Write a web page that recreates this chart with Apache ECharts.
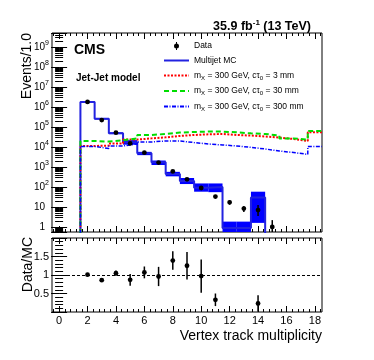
<!DOCTYPE html>
<html>
<head>
<meta charset="utf-8">
<script src="https://cdn.jsdelivr.net/npm/echarts@6/dist/echarts.min.js"></script>
<style>
  html, body { margin: 0; padding: 0; background: #fff; }
  #chart { width: 374px; height: 360px; }
</style>
</head>
<body>
<div id="chart"></div>
<script>
// Vertex track multiplicity, data vs multijet MC and three signal hypotheses.
// Bins are integer-centred (edges at n +- 0.5).

const dataBins = [2, 3, 4, 5, 6, 7, 8, 9, 10, 11, 12, 13, 14, 15]
const dataVals = [1.78e6, 2.2e5, 5.2e4, 1.5e4, 5.2e3, 1.65e3, 600, 240, 89, 33, 17, 8.3, 7, 1]
const dataErrUp = [1330, 470, 230, 120, 72, 41, 25, 16, 9.5, 7, 5, 3, 5.6, 1.2]
const dataErrDown = [1330, 470, 230, 120, 72, 41, 25, 16, 9.5, 6, 4, 2.7, 3.5, 1]

const mcBins = [2, 3, 4, 5, 6, 7, 8, 9, 10, 11, 12, 13, 14]
const mcVals = [1.78e6, 2.55e5, 4.9e4, 1.7e4, 4.8e3, 1.7e3, 440, 200, 92, 100, 0.9, 0.9, 30]
const mcLo = [1.68e6, 2.35e5, 4.4e4, 1.3e4, 3.9e3, 1.25e3, 340, 140, 58, 55, 0, 0, 1.6]
const mcHi = [1.9e6, 2.75e5, 5.4e4, 2.2e4, 5.7e3, 2.1e3, 570, 280, 150, 150, 1.85, 1.85, 58]

const sigBins = [2, 3, 4, 5, 6, 7, 8, 9, 10, 11, 12, 13, 14, 15, 16, 17, 18]
const sig3mm = [11200, 11700, 14800, 23400, 26900, 30200, 35500, 39800, 42700, 44700, 39800, 37200, 33100, 29500, 25100, 20000, 53700]
const sig30mm = [19950, 18600, 21400, 26900, 39800, 44700, 52500, 56200, 58900, 58900, 53700, 47900, 44700, 37200, 26900, 23400, 63100]
const sig300mm = [10500, 8500, 11200, 14100, 17800, 20000, 20000, 16600, 14100, 12600, 11200, 9550, 7940, 6310, 5250, 4270, 10500]

const ratioBins = [2, 3, 4, 5, 6, 7, 8, 9, 10, 11, 14]
const ratioVals = [1.01, 0.86, 1.05, 0.87, 1.07, 0.96, 1.39, 1.25, 0.97, 0.33, 0.23]
const ratioErr = [0.02, 0.03, 0.07, 0.16, 0.16, 0.26, 0.25, 0.37, 0.45, 0.17, 0.22]

const xTicksMajor = [0, 2, 4, 6, 8, 10, 12, 14, 16, 18]
const ratioLabels = [0.5, 1, 1.5]

const FONT = '"Liberation Sans", Arial, Helvetica, sans-serif'
const X_MIN = -0.5, X_MAX = 18.5
const Y_MIN = 0.56, Y_MAX = 5e9
const FLOOR = 0.3   // empty bins drawn below the axis floor

// minor tick positions (0.4 steps, ROOT 510 style) and log minor ticks
const xTicksMinor = []
for (let k = -1; k <= 47; k++) {
  const v = Math.round(k * 0.4 * 10) / 10
  if (v > X_MIN && v < X_MAX) xTicksMinor.push(v)
}
const yTicksMinor = []
for (let e = -1; e <= 9; e++) {
  for (let m = 2; m <= 9; m++) {
    const v = m * Math.pow(10, e)
    if (v > Y_MIN && v < Y_MAX) yTicksMinor.push(v)
  }
}

// step outline: points at the left edge of each bin
function stepData(bins, vals) {
  const pts = [[X_MIN, FLOOR]]
  bins.forEach(function (b, i) { pts.push([b - 0.5, vals[i]]) })
  const last = bins[bins.length - 1] + 0.5
  if (last < X_MAX) { pts.push([last, FLOOR]); pts.push([X_MAX, FLOOR]) }
  else pts.push([X_MAX, vals[vals.length - 1]])
  return pts
}

function clampY(y, cs) {
  if (!isFinite(y)) return cs.y + cs.height
  return Math.max(cs.y, Math.min(cs.y + cs.height, y))
}

function renderBand(params, api) {
  const cs = params.coordSys
  const x = api.value(0)
  const lo = api.value(1), hi = api.value(2)
  const p0 = api.coord([x - 0.5, hi])
  const p1 = api.coord([x + 0.5, 1])
  const yTop = clampY(p0[1], cs)
  const yBot = lo > 0 ? clampY(api.coord([x, lo])[1], cs) : cs.y + cs.height
  return {
    type: 'rect',
    shape: { x: p0[0], y: yTop, width: p1[0] - p0[0], height: yBot - yTop },
    style: { fill: '#0000ff' }
  }
}

function renderPoint(params, api) {
  const cs = params.coordSys
  const x = api.value(0), y = api.value(1)
  const up = api.value(2), down = api.value(3)
  const c = api.coord([x, y])
  const yHi = clampY(api.coord([x, y + up])[1], cs)
  const yLo = (y - down) > 0 ? clampY(api.coord([x, y - down])[1], cs) : cs.y + cs.height
  return {
    type: 'group',
    children: [
      { type: 'line', shape: { x1: c[0], y1: yHi, x2: c[0], y2: yLo }, style: { stroke: '#000', lineWidth: 1.5 } },
      { type: 'circle', shape: { cx: c[0], cy: c[1], r: 2.4 }, style: { fill: '#000' } }
    ]
  }
}

function xAxisSet(grid, withLabels) {
  const base = { type: 'value', gridIndex: grid, min: X_MIN, max: X_MAX, splitLine: { show: false }, axisLine: { show: false } }
  return [
    Object.assign({}, base, {
      position: 'bottom',
      axisTick: { inside: true, length: 6, customValues: xTicksMajor, lineStyle: { color: '#000' } },
      axisLabel: withLabels
        ? { show: true, customValues: xTicksMajor, fontSize: 11, fontFamily: FONT, color: '#000', margin: 3 }
        : { show: false }
    }),
    Object.assign({}, base, {
      position: 'bottom',
      axisTick: { inside: true, length: 3, customValues: xTicksMinor, lineStyle: { color: '#000' } },
      axisLabel: { show: false }
    }),
    Object.assign({}, base, {
      position: 'top',
      axisTick: { inside: true, length: 6, customValues: xTicksMajor, lineStyle: { color: '#000' } },
      axisLabel: { show: false }
    }),
    Object.assign({}, base, {
      position: 'top',
      axisTick: { inside: true, length: 3, customValues: xTicksMinor, lineStyle: { color: '#000' } },
      axisLabel: { show: false }
    })
  ]
}

const logBase = { type: 'log', gridIndex: 0, min: Y_MIN, max: Y_MAX, splitNumber: 10, splitLine: { show: false }, axisLine: { show: false } }

const yAxes = [
  Object.assign({}, logBase, {
    position: 'left',
    axisTick: { inside: true, length: 8, lineStyle: { color: '#000' } },
    axisLabel: {
      fontSize: 10, fontFamily: FONT, color: '#000', margin: 3,
      formatter: function (v) {
        const e = Math.round(Math.log10(v))
        if (Math.abs(Math.log10(v) - e) > 1e-6) return ''
        if (e === 0) return '{p|1}'
        if (e === 1) return '{p|10}'
        return '10{sup|' + e + '}'
      },
      rich: {
        p: { fontSize: 10, fontFamily: FONT, color: '#000', padding: [0, 4, 0, 0] },
        sup: { fontSize: 7, fontFamily: FONT, color: '#000', padding: [0, 0, 7, 0] }
      }
    }
  }),
  Object.assign({}, logBase, {
    position: 'left',
    axisTick: { inside: true, length: 4, customValues: yTicksMinor, lineStyle: { color: '#000' } },
    axisLabel: { show: false }
  }),
  Object.assign({}, logBase, {
    position: 'right',
    axisTick: { inside: true, length: 8, lineStyle: { color: '#000' } },
    axisLabel: { show: false }
  }),
  Object.assign({}, logBase, {
    position: 'right',
    axisTick: { inside: true, length: 4, customValues: yTicksMinor, lineStyle: { color: '#000' } },
    axisLabel: { show: false }
  }),
  {
    type: 'value', gridIndex: 1, position: 'left', min: 0, max: 2, interval: 0.5,
    splitLine: { show: false }, axisLine: { show: false },
    axisTick: { inside: true, length: 8, lineStyle: { color: '#000' } },
    minorTick: { show: true, splitNumber: 5, length: 4, lineStyle: { color: '#000' } },
    axisLabel: { customValues: ratioLabels, fontSize: 11, fontFamily: FONT, color: '#000', margin: 3 }
  },
  {
    type: 'value', gridIndex: 1, position: 'right', min: 0, max: 2, interval: 0.5,
    splitLine: { show: false }, axisLine: { show: false },
    axisTick: { inside: true, length: 8, lineStyle: { color: '#000' } },
    minorTick: { show: true, splitNumber: 5, length: 4, lineStyle: { color: '#000' } },
    axisLabel: { show: false }
  }
]

const legendNames = {
  'Data': 'Data',
  'Multijet MC': 'Multijet MC',
  'sig3': 'm{sub|X} = 300 GeV, cτ{sub|0} = 3 mm',
  'sig30': 'm{sub|X} = 300 GeV, cτ{sub|0} = 30 mm',
  'sig300': 'm{sub|X} = 300 GeV, cτ{sub|0} = 300 mm'
}

const noMarker = { color: 'rgba(0,0,0,0)', borderWidth: 0 }

const chart = echarts.init(document.getElementById('chart'), null, { renderer: 'canvas' })

chart.setOption({
  animation: false,
  backgroundColor: '#fff',
  grid: [
    { left: 52, top: 33, width: 270, height: 199, show: true, borderColor: '#000', borderWidth: 1, backgroundColor: 'transparent' },
    { left: 52, top: 238, width: 270, height: 74, show: true, borderColor: '#000', borderWidth: 1, backgroundColor: 'transparent' }
  ],
  xAxis: xAxisSet(0, false).concat(xAxisSet(1, true)),
  yAxis: yAxes,
  title: [
    { text: 'CMS', left: 69, top: 38, textStyle: { fontSize: 14, fontWeight: 'bold', fontFamily: FONT, color: '#000' } },
    { text: 'Jet-Jet model', left: 71, top: 68, textStyle: { fontSize: 10, fontWeight: 'bold', fontFamily: FONT, color: '#000' } },
    {
      text: '35.9 fb{sup|-1} (13 TeV)', right: 58, top: 14,
      textStyle: {
        fontSize: 12.5, fontWeight: 'bold', fontFamily: FONT, color: '#000',
        rich: { sup: { fontSize: 8, fontWeight: 'bold', fontFamily: FONT, color: '#000', padding: [0, 0, 7, 0] } }
      }
    }
  ],
  legend: {
    orient: 'vertical', left: 158, top: 36,
    itemWidth: 25, itemHeight: 8, itemGap: 4.5,
    data: [
      { name: 'Data', icon: 'path://M12,0h1v1.6h-1z M12,6.4h1v1.6h-1z M10,4a2.5,2.5 0 1,0 5,0a2.5,2.5 0 1,0 -5,0z' },
      { name: 'Multijet MC', itemStyle: noMarker },
      { name: 'sig3', itemStyle: noMarker },
      { name: 'sig30', itemStyle: noMarker },
      { name: 'sig300', itemStyle: noMarker }
    ],
    formatter: function (n) { return legendNames[n] },
    textStyle: {
      fontSize: 8.5, fontFamily: FONT, color: '#000', lineHeight: 10,
      rich: { sub: { fontSize: 6, fontFamily: FONT, color: '#000', padding: [5, 0, 0, 0], lineHeight: 10 } }
    }
  },
  graphic: [
    { type: 'text', x: 27, y: 33, rotation: Math.PI / 2,
      style: { text: 'Events/1.0', font: '14px ' + FONT, fill: '#000', align: 'right', verticalAlign: 'middle' } },
    { type: 'text', x: 28, y: 237, rotation: Math.PI / 2,
      style: { text: 'Data/MC', font: '14px ' + FONT, fill: '#000', align: 'right', verticalAlign: 'middle' } },
    { type: 'text', x: 322, y: 336,
      style: { text: 'Vertex track multiplicity', font: '14px ' + FONT, fill: '#000', align: 'right', verticalAlign: 'middle' } }
  ],
  series: [
    {
      name: 'MC band', type: 'custom', xAxisIndex: 0, yAxisIndex: 0, renderItem: renderBand,
      data: mcBins.map(function (b, i) { return [b, mcLo[i], mcHi[i]] }), z: 1, silent: true
    },
    {
      name: 'Multijet MC', type: 'line', xAxisIndex: 0, yAxisIndex: 0, step: 'end', symbol: 'none',
      data: stepData(mcBins, mcVals), clip: true, z: 2,
      lineStyle: { color: '#2222e0', width: 2 }, itemStyle: { color: '#2222e0' }
    },
    {
      name: 'sig3', type: 'line', xAxisIndex: 0, yAxisIndex: 0, step: 'end', symbol: 'none',
      data: stepData(sigBins, sig3mm), clip: true, z: 3,
      lineStyle: { color: '#ff0000', width: 2, type: [2, 1.5] }, itemStyle: { color: '#ff0000' }
    },
    {
      name: 'sig30', type: 'line', xAxisIndex: 0, yAxisIndex: 0, step: 'end', symbol: 'none',
      data: stepData(sigBins, sig30mm), clip: true, z: 3,
      lineStyle: { color: '#00dd00', width: 2, type: [5, 3] }, itemStyle: { color: '#00dd00' }
    },
    {
      name: 'sig300', type: 'line', xAxisIndex: 0, yAxisIndex: 0, step: 'end', symbol: 'none',
      data: stepData(sigBins, sig300mm), clip: true, z: 3,
      lineStyle: { color: '#0000ff', width: 1.5, type: [4, 1.5, 1, 1.5] }, itemStyle: { color: '#0000ff' }
    },
    {
      name: 'Data', type: 'custom', xAxisIndex: 0, yAxisIndex: 0, renderItem: renderPoint, z: 5,
      itemStyle: { color: '#000' }, symbolKeepAspect: true,
      data: dataBins.map(function (b, i) { return [b, dataVals[i], dataErrUp[i], dataErrDown[i]] })
    },
    {
      name: 'Ratio', type: 'custom', xAxisIndex: 4, yAxisIndex: 4, renderItem: renderPoint, z: 5,
      data: ratioBins.map(function (b, i) { return [b, ratioVals[i], ratioErr[i], ratioErr[i]] }),
      markLine: {
        silent: true, symbol: 'none', label: { show: false },
        lineStyle: { color: '#000', width: 1, type: [3, 2] },
        data: [{ yAxis: 1 }]
      }
    }
  ]
})
</script>
</body>
</html>
